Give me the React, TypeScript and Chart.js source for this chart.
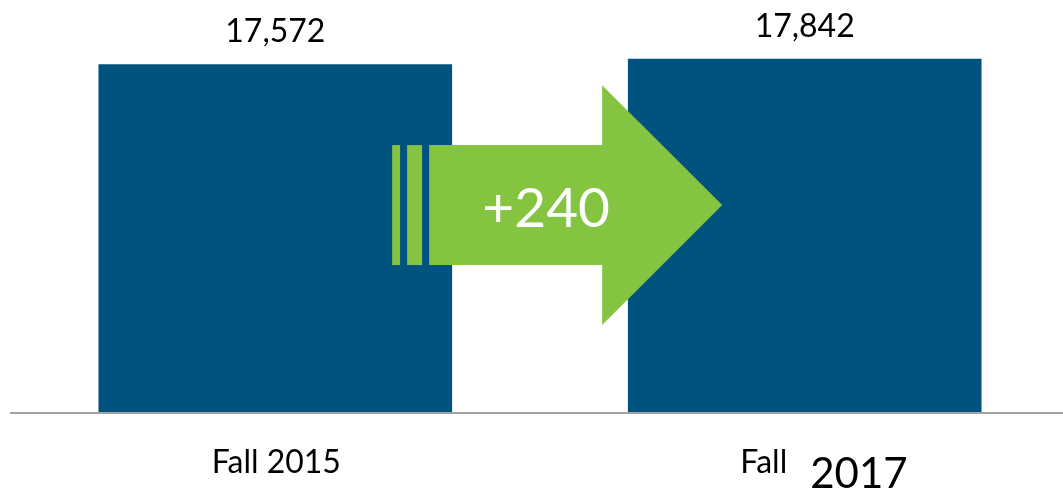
import React, { useEffect, useRef } from "react";
import { Chart, registerables } from "chart.js";

Chart.register(...registerables);

// ---- data ----
const categories = ["Fall 2015", "Fall 2017"];
const enrollment = [17572, 17842];
const valueLabels = ["17,572", "17,842"];
const changeLabel = "+240";
const yMax = 20000;

// arrow geometry expressed in data units (x: category index, y: value)
const arrowStripesX = [
  [0.2207, 0.2357],
  [0.249, 0.2773],
];
const arrowBodyX = [0.2906, 0.6174];
const arrowTipX = 0.8442;
const arrowBodyY = [7437, 13488];
const arrowHeadY = [4412, 16513];
const arrowTipY = 10463;
const arrowLabelPos = [0.5116, 9353];

const BAR_COLOR = "#00527f";
const ARROW_COLOR = "#84c441";
const FONT = "Lato, 'Open Sans', sans-serif";

const overlayPlugin = {
  id: "overlay",
  afterDatasetsDraw(chart: any) {
    const ctx = chart.ctx as CanvasRenderingContext2D;
    const xs = chart.scales.x;
    const ys = chart.scales.y;
    const area = chart.chartArea;
    ctx.save();

    // axis line
    ctx.strokeStyle = "#a3a3a3";
    ctx.lineWidth = 2;
    ctx.beginPath();
    ctx.moveTo(10, area.bottom + 0.5);
    ctx.lineTo(chart.width, area.bottom + 0.5);
    ctx.stroke();

    // value labels
    const meta = chart.getDatasetMeta(0);
    ctx.fillStyle = "#000";
    ctx.font = `32px ${FONT}`;
    ctx.textAlign = "center";
    ctx.textBaseline = "alphabetic";
    meta.data.forEach((el: any, i: number) => {
      ctx.fillText(valueLabels[i], el.x, el.y - 22);
    });

    // category labels
    categories.forEach((label, i) => {
      const cx = xs.getPixelForValue(i);
      const [word, year] = label.split(" ");
      ctx.fillStyle = "#000";
      if (i === 0) {
        ctx.font = `32px ${FONT}`;
        ctx.textAlign = "center";
        ctx.fillText(label, cx + 1, area.bottom + 60.5);
      } else {
        ctx.font = `32px ${FONT}`;
        ctx.textAlign = "right";
        ctx.fillText(word, cx - 17.5, area.bottom + 60.5);
        ctx.font = `42px ${FONT}`;
        ctx.textAlign = "left";
        ctx.fillText(year, cx + 5.5, area.bottom + 75.5);
      }
    });

    // arrow
    const px = (v: number) => xs.getPixelForValue(v);
    const py = (v: number) => ys.getPixelForValue(v);
    ctx.fillStyle = ARROW_COLOR;
    arrowStripesX.forEach(([a, b]) => {
      ctx.fillRect(px(a), py(arrowBodyY[1]), px(b) - px(a), py(arrowBodyY[0]) - py(arrowBodyY[1]));
    });
    ctx.beginPath();
    ctx.moveTo(px(arrowBodyX[0]), py(arrowBodyY[1]));
    ctx.lineTo(px(arrowBodyX[1]), py(arrowBodyY[1]));
    ctx.lineTo(px(arrowBodyX[1]), py(arrowHeadY[1]));
    ctx.lineTo(px(arrowTipX), py(arrowTipY));
    ctx.lineTo(px(arrowBodyX[1]), py(arrowHeadY[0]));
    ctx.lineTo(px(arrowBodyX[1]), py(arrowBodyY[0]));
    ctx.lineTo(px(arrowBodyX[0]), py(arrowBodyY[0]));
    ctx.closePath();
    ctx.fill();

    ctx.fillStyle = "#ffffff";
    ctx.font = `55px ${FONT}`;
    ctx.textAlign = "center";
    ctx.textBaseline = "alphabetic";
    ctx.fillText(changeLabel, px(arrowLabelPos[0]), py(arrowLabelPos[1]));

    ctx.restore();
  },
};

export default function App() {
  const ref = useRef<HTMLCanvasElement | null>(null);
  useEffect(() => {
    if (!ref.current) return;
    const chart = new Chart(ref.current, {
      type: "bar",
      data: {
        labels: categories,
        datasets: [
          {
            data: enrollment,
            backgroundColor: BAR_COLOR,
            borderWidth: 0,
            categoryPercentage: 1,
            barPercentage: 0.668,
          },
        ],
      },
      options: {
        responsive: false,
        animation: false,
        devicePixelRatio: 1,
        layout: { padding: { left: 10.6, right: 0.6, top: 16, bottom: 79.5 } },
        plugins: { legend: { display: false }, tooltip: { enabled: false } },
        scales: {
          x: { display: false, offset: true },
          y: { display: false, min: 0, max: yMax },
        },
      },
      plugins: [overlayPlugin],
    });
    return () => chart.destroy();
  }, []);
  return (
    <div
      style={{
        position: "fixed",
        left: 0,
        top: 0,
        width: 1063,
        height: 492,
        overflow: "hidden",
        background: "#fff",
      }}
    >
      <canvas ref={ref} width={1070} height={492} style={{ display: "block" }} />
    </div>
  );
}
